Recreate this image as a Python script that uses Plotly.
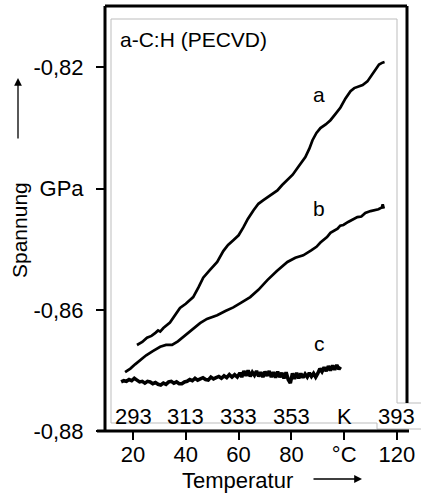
import plotly.graph_objects as go

# ---- data ----
a_x = [21.5, 23.5, 25.3, 27.0, 28.5, 29.5, 30.3, 31.5, 34.0, 36.0, 37.8, 40.0, 42.8, 44.8, 46.6, 49.0,
       51.9, 54.2, 56.0, 58.0, 60.0, 61.8, 63.5, 65.6, 67.5, 69.4, 72.0, 74.7, 76.5, 78.5, 80.5, 82.3,
       84.0, 85.3, 86.8, 88.0, 89.5, 91.0, 93.0, 94.8, 96.8, 98.6, 100.5, 102.4, 103.8, 105.0, 107.0,
       108.8, 110.5, 111.9, 113.2, 114.5, 115.3]
a_y = [-0.8658, -0.8653, -0.8646, -0.8643, -0.8638, -0.8634, -0.8636, -0.8630, -0.8621, -0.8609, -0.8597,
       -0.8590, -0.8579, -0.8563, -0.8547, -0.8535, -0.8521, -0.8503, -0.8493, -0.8485, -0.8477, -0.8464,
       -0.8450, -0.8436, -0.8425, -0.8419, -0.8411, -0.8403, -0.8394, -0.8386, -0.8377, -0.8366, -0.8355,
       -0.8348, -0.8334, -0.8320, -0.8308, -0.8300, -0.8294, -0.8287, -0.8276, -0.8266, -0.8251, -0.8239,
       -0.8234, -0.8232, -0.8229, -0.8223, -0.8212, -0.8202, -0.8195, -0.8192, -0.8191]

b_x = [17.0, 19.0, 20.8, 22.7, 25.0, 27.5, 30.3, 32.5, 34.8, 37.0, 39.0, 41.5, 43.5, 45.4, 48.0, 50.0,
       51.9, 55.0, 58.0, 61.0, 64.4, 67.5, 70.9, 74.5, 78.5, 81.5, 84.5, 87.5, 89.5, 91.0, 92.5, 93.5,
       94.8, 96.0, 97.5, 98.5, 99.7, 101.5, 103.0, 105.0, 106.5, 108.0, 110.0, 111.5, 113.0, 114.3,
       114.6, 115.0]
b_y = [-0.8703, -0.8697, -0.8690, -0.8683, -0.8675, -0.8668, -0.8661, -0.8658, -0.8658, -0.8652, -0.8645,
       -0.8636, -0.8628, -0.8622, -0.8615, -0.8612, -0.8609, -0.8602, -0.8596, -0.8588, -0.8579, -0.8567,
       -0.8551, -0.8536, -0.8521, -0.8514, -0.8510, -0.8502, -0.8496, -0.8489, -0.8484, -0.8480, -0.8473,
       -0.8470, -0.8466, -0.8461, -0.8460, -0.8455, -0.8452, -0.8447, -0.8446, -0.8440, -0.8437, -0.8436,
       -0.8434, -0.8431, -0.8426, -0.8433]

c_x = [15.5, 16.5, 17.5, 18.5, 19.5, 20.5, 21.5, 22.5, 23.5, 24.5, 25.5, 26.5, 27.5, 28.5, 29.5, 30.5,
       31.5, 32.5, 33.5, 34.5, 35.5, 36.5, 37.5, 38.5, 39.5, 40.5, 41.5, 42.5, 43.5, 44.5, 45.5, 46.5,
       47.5, 48.5, 49.5, 50.5, 51.5, 52.5, 53.5, 54.5, 55.5, 56.5, 57.5, 58.5, 59.5, 60.5, 61.2, 62.0,
       62.8, 63.6, 64.4, 65.2, 66.0, 66.8, 67.6, 68.4, 69.2, 70.0, 70.8, 71.6, 72.4, 73.2, 74.0, 74.8,
       75.6, 76.4, 77.2, 78.0, 78.8, 79.6, 80.4, 81.2, 82.0, 82.8, 83.6, 84.4, 85.2, 86.0, 86.8, 87.6,
       88.4, 89.2, 90.0, 90.8, 91.6, 92.4, 93.2, 94.0, 94.8, 95.6, 96.4, 97.2, 98.0, 98.6]
c_y = [-0.8719, -0.8717, -0.8718, -0.8715, -0.8717, -0.8713, -0.8716, -0.8719, -0.8718, -0.8721, -0.8718,
       -0.8719, -0.8722, -0.8720, -0.8723, -0.8724, -0.8721, -0.8723, -0.8719, -0.8718, -0.8721, -0.8719,
       -0.8722, -0.8722, -0.8719, -0.8718, -0.8715, -0.8717, -0.8713, -0.8716, -0.8714, -0.8712, -0.8715,
       -0.8716, -0.8711, -0.8714, -0.8712, -0.8710, -0.8713, -0.8709, -0.8712, -0.8707, -0.8711, -0.8707,
       -0.8711, -0.8704, -0.8711, -0.8701, -0.8709, -0.8700, -0.8710, -0.8703, -0.8708, -0.8701, -0.8710,
       -0.8703, -0.8711, -0.8702, -0.8709, -0.8701, -0.8711, -0.8703, -0.8712, -0.8702, -0.8711, -0.8704,
       -0.8713, -0.8703, -0.8715, -0.8721, -0.8705, -0.8714, -0.8704, -0.8713, -0.8705, -0.8712, -0.8706,
       -0.8711, -0.8704, -0.8710, -0.8705, -0.8711, -0.8705, -0.8697, -0.8702, -0.8695, -0.8701, -0.8693,
       -0.8700, -0.8692, -0.8699, -0.8691, -0.8698, -0.8694]

x_tickvals = [20, 40, 60, 80, 100, 120]
x_ticktext = ["20", "40", "60", "80", "°C", "120"]
k_labels = ["293", "313", "333", "353", "K", "393"]
y_tickvals = [-0.88, -0.86, -0.84, -0.82]
y_ticktext = ["-0,88", "-0,86", "GPa", "-0,82"]
curve_labels = [("a", 90.5, -0.8245), ("b", 90.5, -0.8432), ("c", 90.5, -0.8655)]

FONT = "Liberation Sans, Arial, sans-serif"

fig = go.Figure()
for xs, ys, w in [(a_x, a_y, 2.7), (b_x, b_y, 2.7), (c_x, c_y, 3.6)]:
    fig.add_trace(go.Scatter(x=xs, y=ys, mode="lines",
                             line=dict(color="black", width=w, shape="linear"),
                             showlegend=False, hoverinfo="skip"))

def px_x(p):  # pixel -> paper x
    return (p - 105) / 302.0

def px_y(p):  # pixel -> paper y
    return (431 - p) / 425.0

shapes = []
gray = "#bdbdbd"
# inner gray frame
for (x0, y0, x1, y1) in [(111, 19, 111, 423), (111, 19, 397, 19), (397, 19, 397, 403),
                         (111, 423, 377, 423)]:
    shapes.append(dict(type="line", xref="paper", yref="paper", x0=px_x(x0), y0=px_y(y0),
                       x1=px_x(x1), y1=px_y(y1), line=dict(color=gray, width=1), layer="below"))
# white label box for 393
shapes.append(dict(type="rect", xref="paper", yref="paper", x0=px_x(377), x1=px_x(421),
                   y0=px_y(403), y1=px_y(429), fillcolor="white", line=dict(width=0), layer="below"))
for (x0, y0, x1, y1) in [(397, 403, 421, 403), (377, 423, 377, 429), (377, 429, 421, 429)]:
    shapes.append(dict(type="line", xref="paper", yref="paper", x0=px_x(x0), y0=px_y(y0),
                       x1=px_x(x1), y1=px_y(y1), line=dict(color=gray, width=1), layer="below"))
# black frame
for (x0, y0, x1, y1) in [(105, 6, 105, 431), (105, 6, 407, 6), (407, 6, 407, 403), (97, 431, 409, 431)]:
    shapes.append(dict(type="line", xref="paper", yref="paper", x0=px_x(x0), y0=px_y(y0),
                       x1=px_x(x1), y1=px_y(y1), line=dict(color="black", width=3)))

annotations = []
for v, t in zip(x_tickvals, k_labels):
    annotations.append(dict(x=v, y=px_y(416), xref="x", yref="paper", text=t, showarrow=False,
                            font=dict(family=FONT, size=22, color="black"),
                            xanchor="center", yanchor="middle"))
for t, x, y in curve_labels:
    annotations.append(dict(x=x, y=y, xref="x", yref="y", text=t, showarrow=False,
                            font=dict(family=FONT, size=21, color="black"),
                            xanchor="center", yanchor="middle"))
annotations.append(dict(x=px_x(118), y=px_y(40), xref="paper", yref="paper", text="a-C:H (PECVD)",
                        showarrow=False, font=dict(family=FONT, size=21, color="black"),
                        xanchor="left", yanchor="middle"))
annotations.append(dict(x=px_x(237), y=px_y(480), xref="paper", yref="paper", text="Temperatur",
                        showarrow=False, font=dict(family=FONT, size=22, color="black"),
                        xanchor="center", yanchor="middle"))
annotations.append(dict(x=px_x(19), y=px_y(230), xref="paper", yref="paper", text="Spannung",
                        textangle=-90, showarrow=False, font=dict(family=FONT, size=21, color="black"),
                        xanchor="center", yanchor="middle"))
# arrows
annotations.append(dict(x=px_x(362), y=px_y(479), xref="paper", yref="paper", text="",
                        showarrow=True, ax=-50, ay=0, arrowhead=2, arrowsize=1.2, arrowwidth=1.3,
                        arrowcolor="black"))
annotations.append(dict(x=px_x(18), y=px_y(78), xref="paper", yref="paper", text="",
                        showarrow=True, ax=0, ay=62, arrowhead=2, arrowsize=1.2, arrowwidth=1.3,
                        arrowcolor="black"))

fig.update_layout(
    width=421, height=493,
    margin=dict(l=105, r=14, t=6, b=62),
    plot_bgcolor="white", paper_bgcolor="white",
    font=dict(family=FONT, color="black"),
    shapes=shapes, annotations=annotations,
    xaxis=dict(range=[9.39, 123.8], tickvals=x_tickvals, ticktext=x_ticktext,
               ticks="outside", ticklen=8, tickwidth=2, tickcolor="black",
               showline=False, showgrid=False, zeroline=False, ticklabelstandoff=-4,
               tickfont=dict(family=FONT, size=22, color="black")),
    yaxis=dict(range=[-0.88, -0.80985], tickvals=y_tickvals, ticktext=y_ticktext,
               ticks="outside", ticklen=8, tickwidth=2, tickcolor="black",
               showline=False, showgrid=False, zeroline=False, ticklabelstandoff=8,
               tickfont=dict(family=FONT, size=22, color="black")),
)

fig.write_html("out.html", config={"displayModeBar": False},
               post_script="document.body.style.margin='0';document.body.style.padding='0';")
